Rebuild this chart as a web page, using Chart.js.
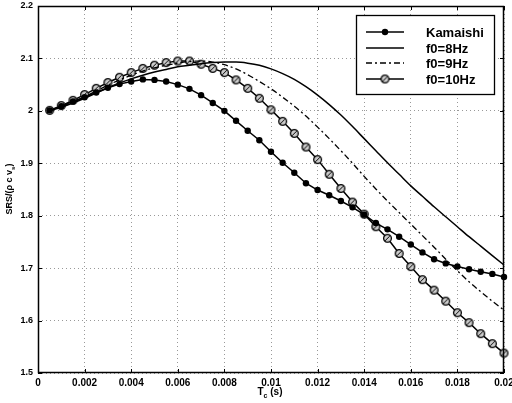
<!DOCTYPE html>
<html>
<head>
<meta charset="utf-8">
<script src="https://cdn.jsdelivr.net/npm/chart.js@4/dist/chart.umd.min.js"></script>
<style>
  html, body { margin: 0; padding: 0; background: #fff; }
  #wrap { width: 512px; height: 403px; }
</style>
</head>
<body>
<div id="wrap"><canvas id="c" width="512" height="403"></canvas></div>
<script>
const xValues = [0.0005,0.001,0.0015,0.002,0.0025,0.003,0.0035,0.004,0.0045,0.005,
                 0.0055,0.006,0.0065,0.007,0.0075,0.008,0.0085,0.009,0.0095,0.01,
                 0.0105,0.011,0.0115,0.012,0.0125,0.013,0.0135,0.014,0.0145,0.015,
                 0.0155,0.016,0.0165,0.017,0.0175,0.018,0.0185,0.019,0.0195,0.02];

const kamaishi = [2.001,2.009,2.018,2.026,2.035,2.044,2.051,2.056,2.060,2.059,
                  2.056,2.050,2.042,2.030,2.015,2.000,1.981,1.962,1.944,1.922,
                  1.901,1.882,1.862,1.849,1.839,1.828,1.816,1.802,1.786,1.774,
                  1.760,1.745,1.730,1.717,1.709,1.703,1.698,1.693,1.689,1.683];

const f0_8Hz = [2.000,2.007,2.015,2.024,2.034,2.044,2.053,2.061,2.068,2.074,
                2.079,2.084,2.087,2.090,2.092,2.093,2.093,2.091,2.087,2.080,
                2.071,2.060,2.046,2.030,2.012,1.992,1.970,1.947,1.924,1.901,
                1.879,1.857,1.837,1.817,1.798,1.779,1.760,1.742,1.724,1.706];

const f0_9Hz = [2.000,2.008,2.017,2.027,2.038,2.049,2.059,2.068,2.076,2.082,
                2.087,2.091,2.094,2.095,2.093,2.088,2.080,2.069,2.056,2.042,
                2.026,2.009,1.990,1.969,1.947,1.924,1.900,1.875,1.851,1.828,
                1.806,1.784,1.762,1.740,1.717,1.695,1.674,1.655,1.637,1.620];

const f0_10Hz = [2.001,2.010,2.020,2.031,2.043,2.054,2.064,2.073,2.081,2.087,
                 2.092,2.095,2.095,2.089,2.081,2.073,2.059,2.043,2.024,2.002,
                 1.980,1.957,1.931,1.907,1.879,1.852,1.826,1.803,1.779,1.757,
                 1.728,1.703,1.678,1.658,1.637,1.615,1.596,1.575,1.556,1.538];

const seriesNames = ['Kamaishi', 'f0=8Hz', 'f0=9Hz', 'f0=10Hz'];

const xTickValues = [0,0.002,0.004,0.006,0.008,0.01,0.012,0.014,0.016,0.018,0.02];
const xTickLabels = ['0','0.002','0.004','0.006','0.008','0.01','0.012','0.014','0.016','0.018','0.02'];
const yTickValues = [1.5,1.6,1.7,1.8,1.9,2.0,2.1,2.2];
const yTickLabels = ['1.5','1.6','1.7','1.8','1.9','2','2.1','2.2'];

const FONT = '"Liberation Sans", Arial, Helvetica, sans-serif';

function toPoints(ys) { return xValues.map((x, i) => ({ x: x, y: ys[i] })); }

// open circle with slash marker
function makeSlashCircle() {
  const s = 11, c = document.createElement('canvas');
  c.width = s; c.height = s;
  const g = c.getContext('2d');
  g.fillStyle = '#ccc';
  g.strokeStyle = '#000';
  g.lineWidth = 1.3;
  g.beginPath(); g.arc(5.5, 5.5, 3.9, 0, Math.PI * 2); g.fill(); g.stroke();
  g.lineWidth = 1;
  g.beginPath(); g.moveTo(3.2, 7.8); g.lineTo(7.8, 3.2); g.stroke();
  return c;
}
const slashCircle = makeSlashCircle();

const framePlugin = {
  id: 'frame',
  afterDraw(chart) {
    const { ctx, chartArea: a, scales } = chart;
    ctx.save();
    ctx.strokeStyle = '#000';
    ctx.lineWidth = 1.5;
    ctx.strokeRect(a.left + 0.5, a.top + 0.5, a.right - a.left - 1, a.bottom - a.top - 1);
    ctx.lineWidth = 1;
    const tl = 4;
    scales.x.ticks.forEach(t => {
      const px = Math.round(scales.x.getPixelForValue(t.value)) + 0.5;
      ctx.beginPath();
      ctx.moveTo(px, a.bottom); ctx.lineTo(px, a.bottom - tl);
      ctx.moveTo(px, a.top); ctx.lineTo(px, a.top + tl);
      ctx.stroke();
    });
    scales.y.ticks.forEach(t => {
      const py = Math.round(scales.y.getPixelForValue(t.value)) + 0.5;
      ctx.beginPath();
      ctx.moveTo(a.left, py); ctx.lineTo(a.left + tl, py);
      ctx.moveTo(a.right, py); ctx.lineTo(a.right - tl, py);
      ctx.stroke();
    });

    // axis titles with subscripts
    ctx.fillStyle = '#000';
    ctx.textBaseline = 'alphabetic';
    const big = 'bold 10px ' + FONT, small = 'bold 7px ' + FONT;
    ctx.font = big; const wT = ctx.measureText('T').width;
    ctx.font = small; const wc = ctx.measureText('c').width;
    ctx.font = big; const ws = ctx.measureText(' (s)').width;
    let x0 = 270 - (wT + wc + ws) / 2, by = 395;
    ctx.textAlign = 'left';
    ctx.font = big; ctx.fillText('T', x0, by);
    ctx.font = small; ctx.fillText('c', x0 + wT, by + 3);
    ctx.font = big; ctx.fillText(' (s)', x0 + wT + wc, by);

    ctx.save();
    ctx.translate(12, 189);
    ctx.rotate(-Math.PI / 2);
    const yb = 'bold 9px ' + FONT, ys = 'bold 6px ' + FONT;
    ctx.font = yb; const p1 = 'SRS/(ρ c v', w1 = ctx.measureText(p1).width;
    ctx.font = ys; const w2 = ctx.measureText('s').width;
    ctx.font = yb; const w3 = ctx.measureText(')').width;
    let sx = -(w1 + w2 + w3) / 2;
    ctx.font = yb; ctx.fillText(p1, sx, 0);
    ctx.font = ys; ctx.fillText('s', sx + w1, 3);
    ctx.font = yb; ctx.fillText(')', sx + w1 + w2, 0);
    ctx.restore();

    // legend box
    const L = 356, T = 15, R = 495, B = 95;
    ctx.fillStyle = '#fff';
    ctx.fillRect(L, T, R - L, B - T);
    ctx.strokeStyle = '#000';
    ctx.lineWidth = 1.3;
    ctx.strokeRect(L + 0.5, T + 0.5, R - L - 1, B - T - 1);
    const rows = [32, 48, 63, 79];
    chart.data.datasets.forEach((ds, i) => {
      const y = rows[i];
      ctx.save();
      ctx.strokeStyle = ds.borderColor;
      ctx.lineWidth = ds.borderWidth;
      ctx.setLineDash(ds.borderDash || []);
      ctx.beginPath(); ctx.moveTo(366, y); ctx.lineTo(404, y); ctx.stroke();
      ctx.setLineDash([]);
      if (ds.pointRadius > 0) {
        if (ds.pointStyle === 'circle') {
          ctx.fillStyle = ds.pointBackgroundColor;
          ctx.beginPath(); ctx.arc(385, y, ds.pointRadius, 0, Math.PI * 2); ctx.fill();
        } else {
          ctx.drawImage(ds.pointStyle, 385 - ds.pointStyle.width / 2, y - ds.pointStyle.height / 2);
        }
      }
      ctx.restore();
      ctx.fillStyle = '#000';
      ctx.font = 'bold 13px ' + FONT;
      ctx.textAlign = 'left';
      ctx.textBaseline = 'middle';
      ctx.fillText(ds.label, 426, y + 1);
    });
    ctx.restore();
  }
};

new Chart(document.getElementById('c'), {
  type: 'line',
  data: {
    datasets: [
      { label: seriesNames[0], data: toPoints(kamaishi), borderColor: '#000', borderWidth: 1.5,
        pointStyle: 'circle', pointRadius: 3.2, pointBackgroundColor: '#000', pointBorderWidth: 0,
        pointBorderColor: '#000', tension: 0, clip: false },
      { label: seriesNames[1], data: toPoints(f0_8Hz), borderColor: '#000', borderWidth: 1.5,
        pointRadius: 0, cubicInterpolationMode: 'monotone', clip: false },
      { label: seriesNames[2], data: toPoints(f0_9Hz), borderColor: '#000', borderWidth: 1.3,
        borderDash: [6, 3, 2, 3], pointRadius: 0, cubicInterpolationMode: 'monotone', clip: false },
      { label: seriesNames[3], data: toPoints(f0_10Hz), borderColor: '#000', borderWidth: 1.5,
        pointStyle: slashCircle, pointRadius: 4, tension: 0, clip: false }
    ]
  },
  options: {
    responsive: false,
    animation: false,
    devicePixelRatio: 1,
    layout: { padding: { top: 6, right: 8, left: 0, bottom: 0 } },
    plugins: { legend: { display: false }, tooltip: { enabled: false } },
    scales: {
      x: {
        type: 'linear', min: 0, max: 0.02,
        afterBuildTicks(s) { s.ticks = xTickValues.map(v => ({ value: v })); },
        afterFit(s) { s.height = 30; s.paddingLeft = 0; s.paddingRight = 0; },
        ticks: {
          autoSkip: false, maxRotation: 0, padding: 4, color: '#000',
          font: { family: FONT, size: 10, weight: 'bold' },
          callback: (v, i) => xTickLabels[i]
        },
        grid: { color: '#999', lineWidth: 1, drawTicks: false },
        border: { display: false, dash: [1, 3] }
      },
      y: {
        type: 'linear', min: 1.5, max: 2.2,
        afterBuildTicks(s) { s.ticks = yTickValues.map(v => ({ value: v })); },
        afterFit(s) { s.width = 38; s.paddingTop = 0; s.paddingBottom = 0; },
        ticks: {
          autoSkip: false, padding: 5, color: '#000',
          font: { family: FONT, size: 9, weight: 'bold' },
          callback: (v, i) => yTickLabels[i]
        },
        grid: { color: '#999', lineWidth: 1, drawTicks: false },
        border: { display: false, dash: [1, 3] }
      }
    }
  },
  plugins: [framePlugin]
});
</script>
</body>
</html>
